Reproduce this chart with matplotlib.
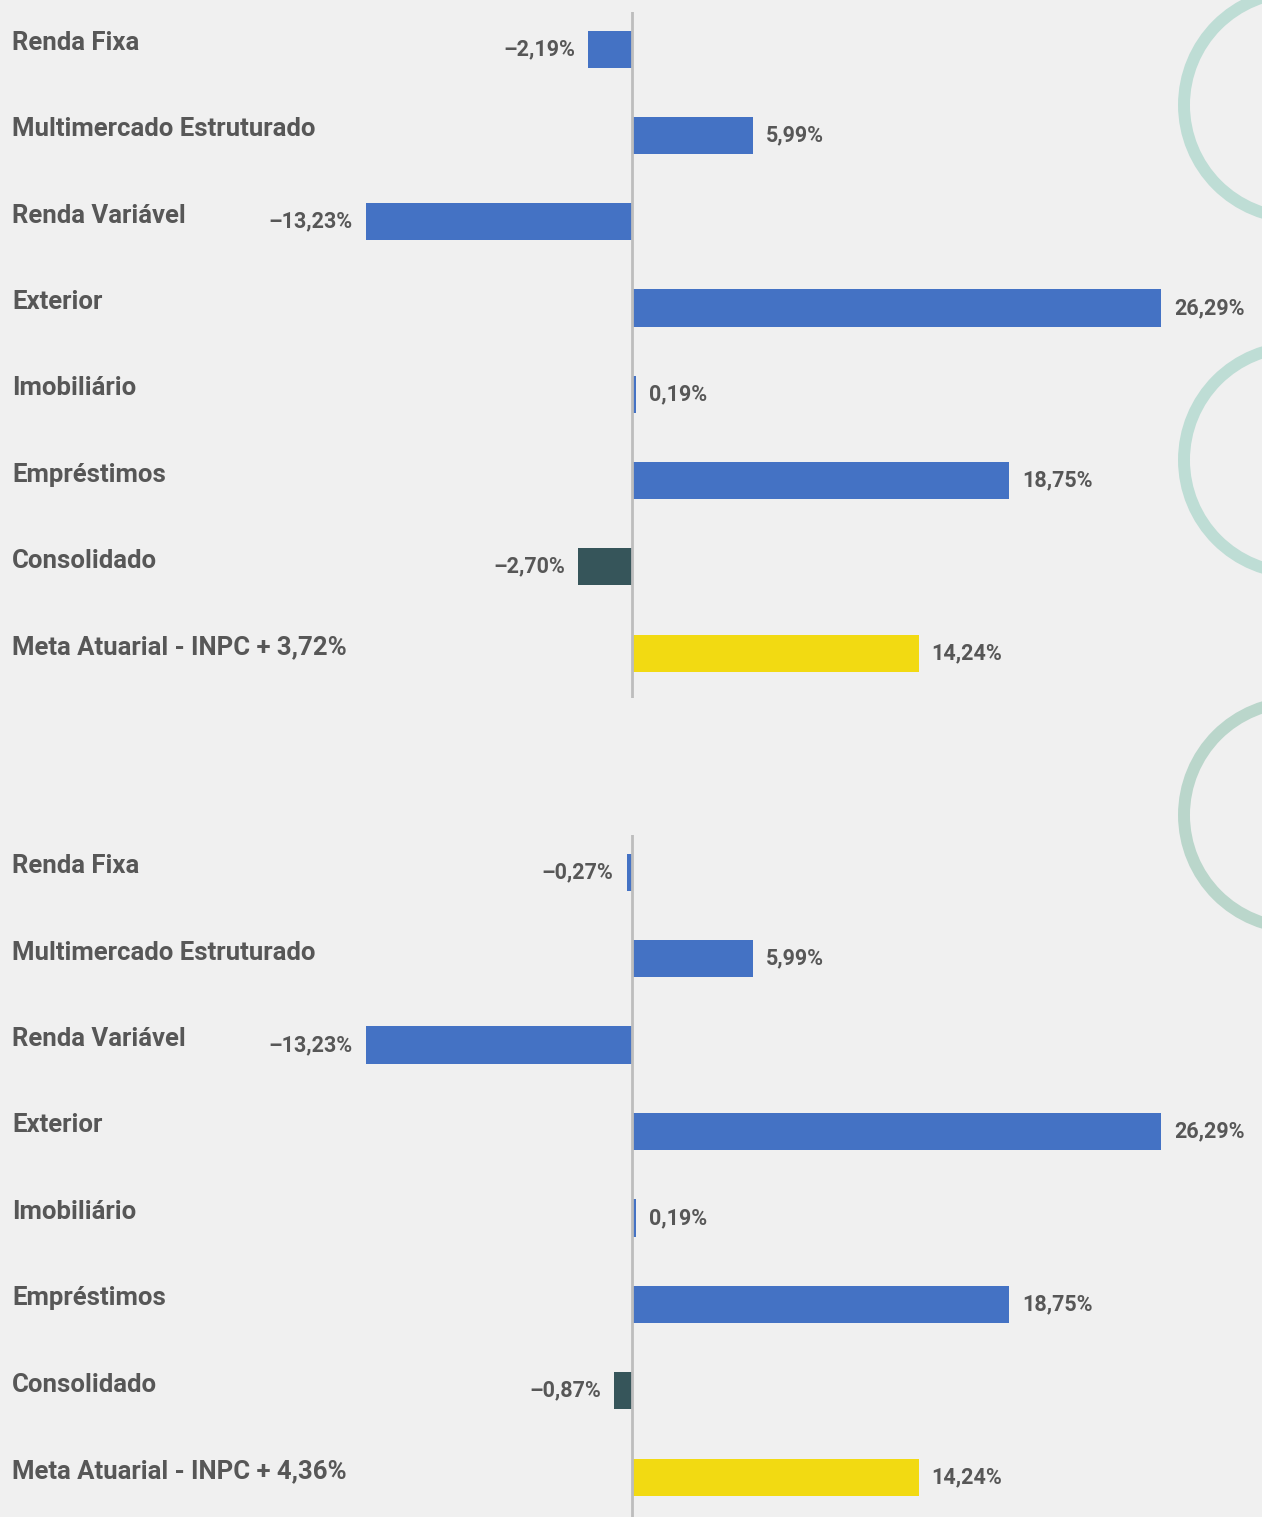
import matplotlib.pyplot as plt
import matplotlib.patches as mpatches
from matplotlib.transforms import blended_transform_factory

categorias = ["Renda Fixa", "Multimercado Estruturado", "Renda Variável", "Exterior",
              "Imobiliário", "Empréstimos", "Consolidado"]
meta_top = "Meta Atuarial - INPC + 3,72%"
meta_bottom = "Meta Atuarial - INPC + 4,36%"

valores_top = [-2.19, 5.99, -13.23, 26.29, 0.19, 18.75, -2.70, 14.24]
valores_bottom = [-0.27, 5.99, -13.23, 26.29, 0.19, 18.75, -0.87, 14.24]

BLUE = "#4472C4"
DARK = "#36555A"
YELLOW = "#F2DA12"
TXT = "#575757"
BG = "#F0F0F0"
cores = [BLUE] * 6 + [DARK, YELLOW]

W, H = 1262, 1517
fig = plt.figure(figsize=(W / 100, H / 100), dpi=100, facecolor=BG)

# decorative rings on the right edge
for cy, col in [(105, "#BEDDD5"), (460, "#BEDDD5"), (815, "#BAD6CB")]:
    ring = mpatches.Circle((12.97, (H - cy) / 100), 1.13, transform=fig.dpi_scale_trans,
                           fill=False, edgecolor=col, linewidth=8.6, zorder=0)
    fig.patches.append(ring)

px_per_pct = 20.12
xlim = (-632 / px_per_pct, (W - 632) / px_per_pct)


def painel(ax, valores, meta, ylim):
    labels = categorias + [meta]
    y = list(range(len(valores)))
    ax.set_facecolor("none")
    ax.barh(y, valores, height=0.43, color=cores, zorder=2)
    ax.axvline(0, color="#BDBDBD", linewidth=2, zorder=3)
    ax.set_xlim(*xlim)
    ax.set_ylim(*ylim)
    for s in ax.spines.values():
        s.set_visible(False)
    ax.set_xticks([])
    ax.set_yticks([])
    tr = blended_transform_factory(ax.transAxes, ax.transData)
    for yi, lab in zip(y, labels):
        ax.text(12 / W, yi - 0.07, lab, transform=tr, ha="left", va="center",
                fontsize=18.5, fontweight="bold", color=TXT, family="Roboto")
    off = 13 / px_per_pct
    for yi, v in zip(y, valores):
        s = f"{v:.2f}%".replace(".", ",").replace("-", "\u2013")
        if v < 0:
            ax.text(v - off, yi, s, ha="right", va="center", fontsize=15.5,
                    fontweight="bold", color=TXT, family="Roboto")
        else:
            ax.text(v + off, yi, s, ha="left", va="center", fontsize=15.5,
                    fontweight="bold", color=TXT, family="Roboto")


ax1 = fig.add_axes([0, (H - 698) / H, 1, 686 / H])
painel(ax1, valores_top, meta_top, (7.52, -0.43))

ax2 = fig.add_axes([0, 0, 1, 682 / H])
painel(ax2, valores_bottom, meta_bottom, (7.46, -0.43))

fig.savefig("out.png", dpi=100, facecolor=BG)
